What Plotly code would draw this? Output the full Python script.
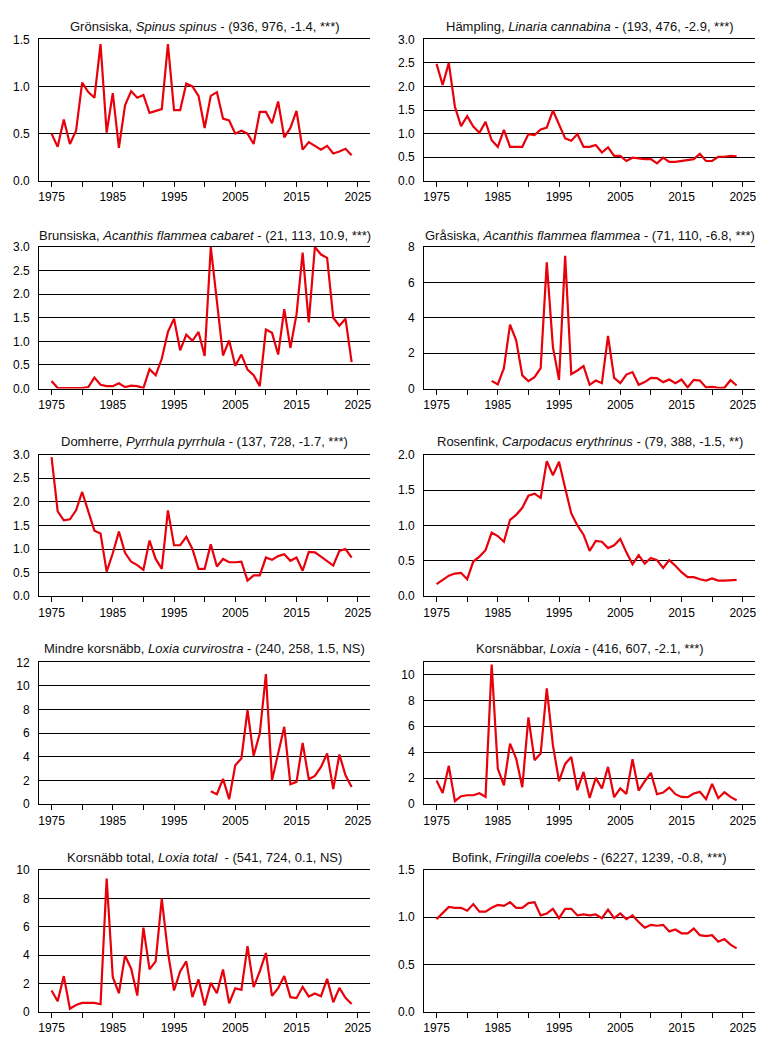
import plotly.graph_objects as go

years = list(range(1975, 2025))

gronsiska = [0.50, 0.36, 0.65, 0.39, 0.53, 1.04, 0.94, 0.88, 1.45, 0.51,
             0.93, 0.35, 0.80, 0.95, 0.88, 0.91, 0.72, 0.74, 0.76, 1.45,
             0.75, 0.75, 1.03, 1.00, 0.90, 0.56, 0.90, 0.94, 0.66, 0.64,
             0.50, 0.53, 0.50, 0.39, 0.73, 0.73, 0.61, 0.84, 0.46, 0.56,
             0.74, 0.33, 0.41, 0.37, 0.33, 0.37, 0.29, 0.31, 0.34, 0.27]

hampling = [2.48, 2.03, 2.50, 1.57, 1.16, 1.37, 1.15, 1.02, 1.25, 0.86,
            0.72, 1.08, 0.72, 0.72, 0.72, 0.99, 0.97, 1.09, 1.13, 1.49,
            1.18, 0.90, 0.85, 0.99, 0.72, 0.72, 0.76, 0.60, 0.71, 0.53,
            0.53, 0.42, 0.49, 0.47, 0.46, 0.46, 0.37, 0.49, 0.40, 0.40,
            0.42, 0.45, 0.46, 0.57, 0.42, 0.42, 0.51, 0.51, 0.53, 0.52]

brunsiska = [0.16, 0.01, 0.01, 0.01, 0.01, 0.01, 0.03, 0.23, 0.08, 0.05,
             0.05, 0.11, 0.03, 0.06, 0.05, 0.01, 0.41, 0.28, 0.63, 1.20,
             1.48, 0.81, 1.14, 1.01, 1.20, 0.69, 3.00, 1.80, 0.70, 1.02,
             0.48, 0.72, 0.40, 0.28, 0.05, 1.25, 1.18, 0.72, 1.68, 0.86,
             1.57, 2.88, 1.40, 3.00, 2.84, 2.77, 1.50, 1.33, 1.48, 0.56]

grasiska = [None] * 9 + [
            0.43, 0.23, 1.15, 3.61, 2.72, 0.74, 0.42, 0.64, 1.15, 7.13,
            2.34, 0.49, 7.50, 0.81, 1.02, 1.27, 0.21, 0.45, 0.30, 2.97,
            0.60, 0.30, 0.79, 0.93, 0.21, 0.36, 0.60, 0.59, 0.36, 0.51,
            0.30, 0.51, 0.06, 0.49, 0.45, 0.06, 0.09, 0.04, 0.04, 0.47, 0.17]

domherre = [2.95, 1.80, 1.61, 1.63, 1.82, 2.21, 1.80, 1.39, 1.33, 0.52,
            0.91, 1.37, 0.92, 0.73, 0.66, 0.56, 1.18, 0.79, 0.58, 1.82,
            1.08, 1.08, 1.26, 1.00, 0.58, 0.58, 1.10, 0.63, 0.79, 0.72,
            0.72, 0.73, 0.33, 0.44, 0.44, 0.82, 0.77, 0.85, 0.89, 0.75,
            0.82, 0.54, 0.94, 0.93, 0.84, 0.75, 0.65, 0.96, 1.00, 0.82]

rosenfink = [0.17, 0.23, 0.29, 0.32, 0.33, 0.24, 0.49, 0.56, 0.65, 0.90,
             0.85, 0.77, 1.08, 1.15, 1.25, 1.42, 1.45, 1.39, 1.91, 1.71,
             1.90, 1.53, 1.17, 1.00, 0.87, 0.64, 0.78, 0.77, 0.68, 0.72,
             0.81, 0.62, 0.45, 0.58, 0.46, 0.54, 0.51, 0.40, 0.51, 0.43,
             0.34, 0.27, 0.27, 0.24, 0.22, 0.25, 0.22, 0.22, 0.23, 0.23]

mindre_korsnabb = [None] * 26 + [
                   1.08, 0.82, 2.12, 0.40, 3.28, 3.85, 7.95, 4.08, 5.97, 11.01,
                   2.01, 4.27, 6.54, 1.67, 1.87, 5.18, 2.09, 2.38, 3.14, 4.27,
                   1.25, 4.19, 2.43, 1.44]

korsnabbar = [1.80, 0.85, 2.94, 0.21, 0.59, 0.67, 0.67, 0.82, 0.54, 10.77,
              2.73, 1.44, 4.66, 3.51, 1.29, 6.68, 3.38, 3.89, 8.92, 4.54,
              1.75, 3.09, 3.63, 1.06, 2.47, 0.46, 2.01, 1.19, 2.86, 0.52,
              1.19, 0.77, 3.45, 1.03, 1.75, 2.40, 0.75, 0.88, 1.26, 0.75,
              0.54, 0.52, 0.80, 0.93, 0.36, 1.55, 0.44, 0.90, 0.54, 0.28]

korsnabb_total = [1.49, 0.73, 2.51, 0.21, 0.47, 0.61, 0.61, 0.61, 0.52, 9.41,
                  2.43, 1.30, 3.97, 3.03, 1.13, 5.93, 2.98, 3.55, 7.99, 4.21,
                  1.49, 2.84, 3.55, 1.02, 2.27, 0.43, 2.03, 1.30, 2.98, 0.59,
                  1.65, 1.54, 4.63, 1.73, 2.84, 4.14, 1.11, 1.65, 2.51, 1.02,
                  0.95, 1.75, 1.06, 1.28, 1.09, 2.32, 0.66, 1.68, 0.97, 0.54]

bofink = [0.98, 1.04, 1.11, 1.10, 1.10, 1.07, 1.14, 1.06, 1.06, 1.10,
          1.13, 1.12, 1.16, 1.10, 1.10, 1.15, 1.16, 1.02, 1.04, 1.09,
          0.99, 1.09, 1.09, 1.02, 1.03, 1.02, 1.03, 0.99, 1.08, 0.99,
          1.04, 0.98, 1.02, 0.95, 0.89, 0.92, 0.91, 0.92, 0.85, 0.87,
          0.83, 0.83, 0.88, 0.81, 0.80, 0.81, 0.74, 0.77, 0.71, 0.67]

titles = [
    "Grönsiska, <i>Spinus spinus</i> - (936, 976, -1.4, ***)",
    "Hämpling, <i>Linaria cannabina</i> - (193, 476, -2.9, ***)",
    "Brunsiska, <i>Acanthis flammea cabaret</i> - (21, 113, 10.9, ***)",
    "Gråsiska, <i>Acanthis flammea flammea</i> - (71, 110, -6.8, ***)",
    "Domherre, <i>Pyrrhula pyrrhula</i> - (137, 728, -1.7, ***)",
    "Rosenfink, <i>Carpodacus erythrinus</i> - (79, 388, -1.5, **)",
    "Mindre korsnäbb, <i>Loxia curvirostra</i> - (240, 258, 1.5, NS)",
    "Korsnäbbar, <i>Loxia</i> - (416, 607, -2.1, ***)",
    "Korsnäbb total, <i>Loxia total</i>  - (541, 724, 0.1, NS)",
    "Bofink, <i>Fringilla coelebs</i> - (6227, 1239, -0.8, ***)",
]
series = [gronsiska, hampling, brunsiska, grasiska, domherre, rosenfink,
          mindre_korsnabb, korsnabbar, korsnabb_total, bofink]
y_max = [1.5, 3.0, 3.0, 8, 3.0, 2.0, 12, 10.93, 10, 1.5]
y_step = [0.5, 0.5, 0.5, 2, 0.5, 0.5, 2, 2, 2, 0.5]
y_fmt = [".1f", ".1f", ".1f", "d", ".1f", ".1f", "d", "d", "d", ".1f"]

tick_years = list(range(1975, 2030, 5))
tick_text = [str(y) if (y - 1975) % 10 == 0 else "" for y in tick_years]

# body margin is removed by post_script, so figure fills the window
W, H = 769, 1038
col_x = [(39.3, 370.0), (424.3, 755.0)]
row_top = [39.3 + 207.7 * i for i in range(5)]
row_h = 141.5
title_off = [13.3, 11.3, 13.5, 13.4, 12.4]

FONT = "Liberation Sans, Arial, sans-serif"
fig = go.Figure()
annotations = []
for k in range(10):
    r, c = divmod(k, 2)
    n = k + 1
    xa = "x" if n == 1 else f"x{n}"
    ya = "y" if n == 1 else f"y{n}"
    fig.add_trace(go.Scatter(x=years, y=series[k], mode="lines",
                             line=dict(color="#e8000b", width=2.2),
                             xaxis=xa, yaxis=ya, showlegend=False,
                             connectgaps=False, hoverinfo="skip"))
    x0, x1 = col_x[c]
    top = row_top[r]
    bot = top + row_h
    xd = [x0 / W, x1 / W]
    yd = [1 - bot / H, 1 - top / H]
    xkey = "xaxis" if n == 1 else f"xaxis{n}"
    ykey = "yaxis" if n == 1 else f"yaxis{n}"
    fig.layout[xkey] = dict(domain=xd, anchor=ya, range=[1973, 2027],
                            tickvals=tick_years, ticktext=tick_text,
                            ticks="outside", ticklen=5, tickwidth=1.2,
                            tickcolor="black", showline=True, linecolor="black",
                            linewidth=1.4, mirror=True, showgrid=False,
                            zeroline=False, automargin=False, fixedrange=True,
                            tickfont=dict(family=FONT, size=12, color="black"))
    yt = []
    i = 0
    while i * y_step[k] <= y_max[k] + 1e-9:
        yt.append(round(i * y_step[k], 2))
        i += 1
    fig.layout[ykey] = dict(domain=yd, anchor=xa, range=[0, y_max[k]],
                            tickvals=yt, tickformat=y_fmt[k], ticks="",
                            ticklabelstandoff=6,
                            showline=True, linecolor="black", linewidth=1.4,
                            showgrid=True, gridcolor="black", gridwidth=1.3,
                            zeroline=False, automargin=False, fixedrange=True,
                            tickfont=dict(family=FONT, size=12, color="black"))
    annotations.append(dict(text=titles[k], xref="paper", yref="paper",
                            x=(x0 + x1) / 2 / W, y=1 - (top - title_off[r]) / H,
                            xanchor="center", yanchor="middle", showarrow=False,
                            font=dict(family=FONT, size=13, color="#111111")))

fig.update_layout(template="none", width=W, height=H,
                  margin=dict(l=0, r=0, t=0, b=0, pad=0, autoexpand=False),
                  paper_bgcolor="white", plot_bgcolor="white",
                  hovermode=False, annotations=annotations)
fig.write_html("out.html",
               config={"displayModeBar": False},
               post_script="document.body.style.margin='0';"
                           "document.body.style.overflow='hidden';")
